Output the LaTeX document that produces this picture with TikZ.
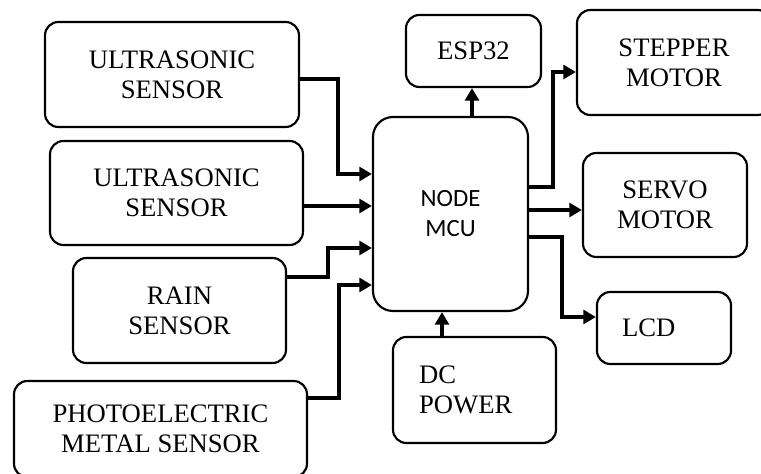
\documentclass[tikz,border=0pt]{standalone}
\usepackage{fontspec}
\setmainfont{Liberation Serif}
\newfontfamily\calib{Carlito}
\usetikzlibrary{arrows.meta}
\tikzset{
  box/.style={draw, line width=1.6pt, rounded corners=10pt, align=center, inner sep=0pt,
    font=\fontsize{20}{22.5}\selectfont},
  arr/.style={line width=2.6pt, -{Triangle[length=9.5pt,width=10.5pt]}},
}
\begin{document}
\begin{tikzpicture}[x=0.75pt,y=-0.75pt]
\useasboundingbox (0,0) rectangle (761,474);
% input sensors
\node[box, minimum width=190.5pt, minimum height=78.75pt] (us1) at (172,74.5) {ULTRASONIC\\SENSOR};
\node[box, minimum width=189.75pt, minimum height=78pt] (us2) at (176.5,193) {ULTRASONIC\\SENSOR};
\node[box, minimum width=159.75pt, minimum height=78.75pt] (rain) at (179.5,310.5) {RAIN\\SENSOR};
\node[box, minimum width=219.75pt, minimum height=72pt] (photo) at (160.5,429) {PHOTOELECTRIC\\METAL SENSOR};
% controller
\node[box, rounded corners=15pt, minimum width=116.25pt, minimum height=145.5pt,
  font=\calib\fontsize{18.6}{22.5}\selectfont] (mcu) at (450.5,214) {NODE\\MCU};
% outputs
\node[box, minimum width=101.25pt, minimum height=54pt] (esp) at (473.5,51) {ESP32};
\node[box, minimum width=145.5pt, minimum height=78.75pt] (step) at (674,62.5) {STEPPER\\MOTOR};
\node[box, minimum width=123pt, minimum height=78pt] (servo) at (665,205) {SERVO\\MOTOR};
\node[box, minimum height=54pt, text width=63pt, align=left, inner xsep=18.75pt] (lcd) at (664,328) {LCD};
\node[box, minimum height=79.5pt, text width=83.25pt, align=left, inner xsep=19.5pt] (dc) at (474.5,390) {DC\\POWER};
% connectors
\draw[arr] (us1.east |- 0,79) -- (338,79) -- (338,174) -- (mcu.west |- 0,174);
\draw[arr] (us2.east |- 0,206) -- (mcu.west |- 0,206);
\draw[arr] (rain.east |- 0,277) -- (328,277) -- (328,248) -- (mcu.west |- 0,248);
\draw[arr] (photo.east |- 0,398) -- (339,398) -- (339,285) -- (mcu.west |- 0,285);
\draw[arr] (mcu.north -| 472,0) -- (esp.south -| 472,0);
\draw[arr] (mcu.east |- 0,187) -- (553,187) -- (553,72) -- (step.west |- 0,72);
\draw[arr] (mcu.east |- 0,210) -- (servo.west |- 0,210);
\draw[arr] (mcu.east |- 0,237) -- (562,237) -- (562,317) -- (lcd.west |- 0,317);
\draw[arr] (dc.north -| 442,0) -- (mcu.south -| 442,0);
\end{tikzpicture}
\end{document}
